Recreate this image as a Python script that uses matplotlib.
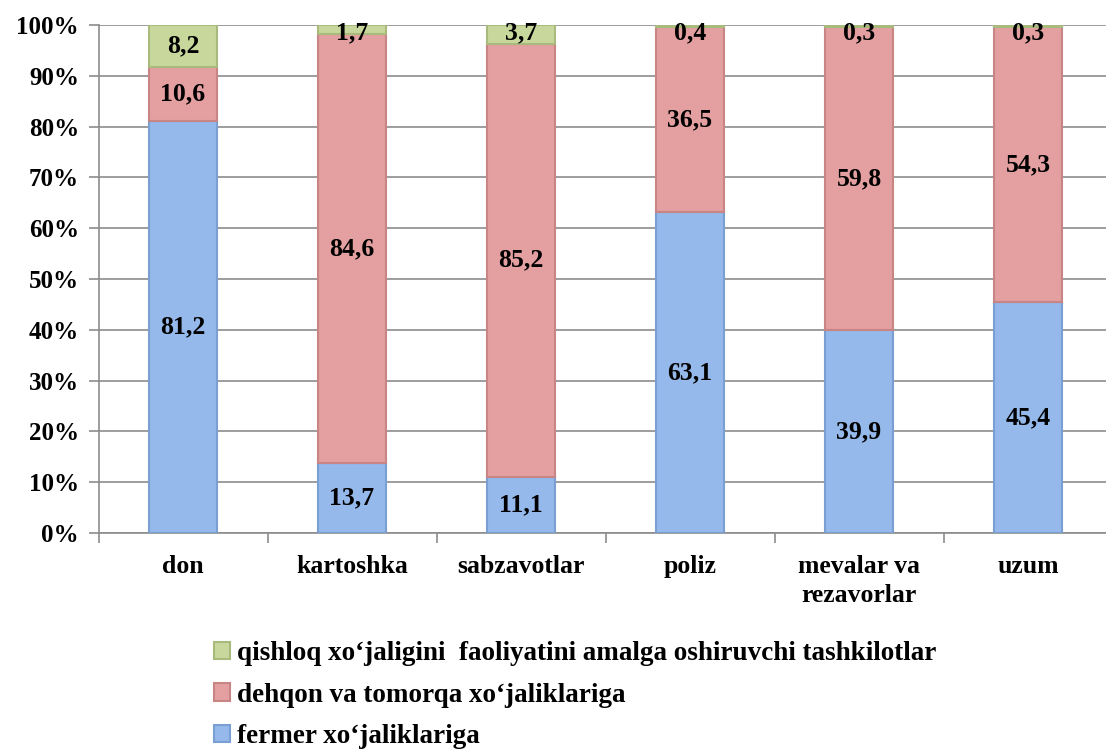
import numpy as np
import matplotlib.pyplot as plt
from matplotlib.ticker import FixedLocator, FuncFormatter

# Data (percent)
categories = ["don", "kartoshka", "sabzavotlar", "poliz", "mevalar va\nrezavorlar", "uzum"]
fermer = [81.2, 13.7, 11.1, 63.1, 39.9, 45.4]
dehqon = [10.6, 84.6, 85.2, 36.5, 59.8, 54.3]
qishloq = [8.2, 1.7, 3.7, 0.4, 0.3, 0.3]

series_names = [
    "fermer xo‘jaliklariga",
    "dehqon va tomorqa xo‘jaliklariga",
    "qishloq xo‘jaligini  faoliyatini amalga oshiruvchi tashkilotlar",
]
series_colors = ["#95b9ea", "#e4a0a0", "#c8d89c"]
edge_colors = ["#7a9fd2", "#c98585", "#a9bb7c"]

plt.rcParams['font.family'] = ['Liberation Serif', 'DejaVu Serif']
plt.rcParams['font.weight'] = 'bold'

fig = plt.figure(figsize=(11.06, 7.51), dpi=100)
W = 1106.0
H = 751.0
ax = fig.add_axes([98.5 / W, 1 - 533 / H, 1014 / W, 508 / H])

x = np.arange(len(categories))
bottom = np.zeros(len(categories))
bars = []
for vals, name, fc, ec in zip([fermer, dehqon, qishloq], series_names, series_colors, edge_colors):
    vals = np.array(vals)
    b = ax.bar(x, vals, width=0.4, bottom=bottom, color=fc, edgecolor=ec,
               linewidth=1.5, label=name, zorder=3)
    bars.append(b)
    for xi, v, b0 in zip(x, vals, bottom):
        yc = b0 + v / 2
        if v < 5:
            yc = 98.4
        ax.text(xi, yc, f"{v:.1f}".replace(".", ","), ha="center", va="center",
                fontsize=18.5, fontweight="bold", zorder=5)
    bottom = bottom + vals

ax.set_xlim(-0.5, len(categories) - 0.5)
ax.set_ylim(0, 100)

ax.yaxis.set_major_locator(FixedLocator(np.arange(0, 101, 10)))
ax.yaxis.set_major_formatter(FuncFormatter(lambda v, p: f"{int(v)}%"))
ax.grid(axis="y", color="#8c8c8c", linewidth=1.2, zorder=0)
ax.set_axisbelow(True)

ax.set_xticks(x)
ax.set_xticklabels(categories, fontsize=18.5, fontweight="bold", linespacing=1.3)
ax.xaxis.set_minor_locator(FixedLocator(np.arange(-0.5, len(categories), 1.0)))
ax.tick_params(axis="x", which="major", length=0, pad=16)
ax.tick_params(axis="x", which="minor", length=7, color="#8c8c8c", width=1.2, direction="out")
ax.tick_params(axis="y", length=7, color="#8c8c8c", width=1.2, labelsize=18, pad=7)

for s in ["top", "right"]:
    ax.spines[s].set_visible(False)
for s in ["left", "bottom"]:
    ax.spines[s].set_color("#8c8c8c")
    ax.spines[s].set_linewidth(1.2)

handles = [bars[2], bars[1], bars[0]]
labels = [series_names[2], series_names[1], series_names[0]]
fig.legend(handles, labels, loc="upper left", bbox_to_anchor=(203 / W, 1 - 630 / H),
           frameon=False, fontsize=19.5, ncol=1, handlelength=0.6, handleheight=0.6,
           handletextpad=0.25, labelspacing=0.62, borderaxespad=0)

fig.savefig("out.png", dpi=100)
